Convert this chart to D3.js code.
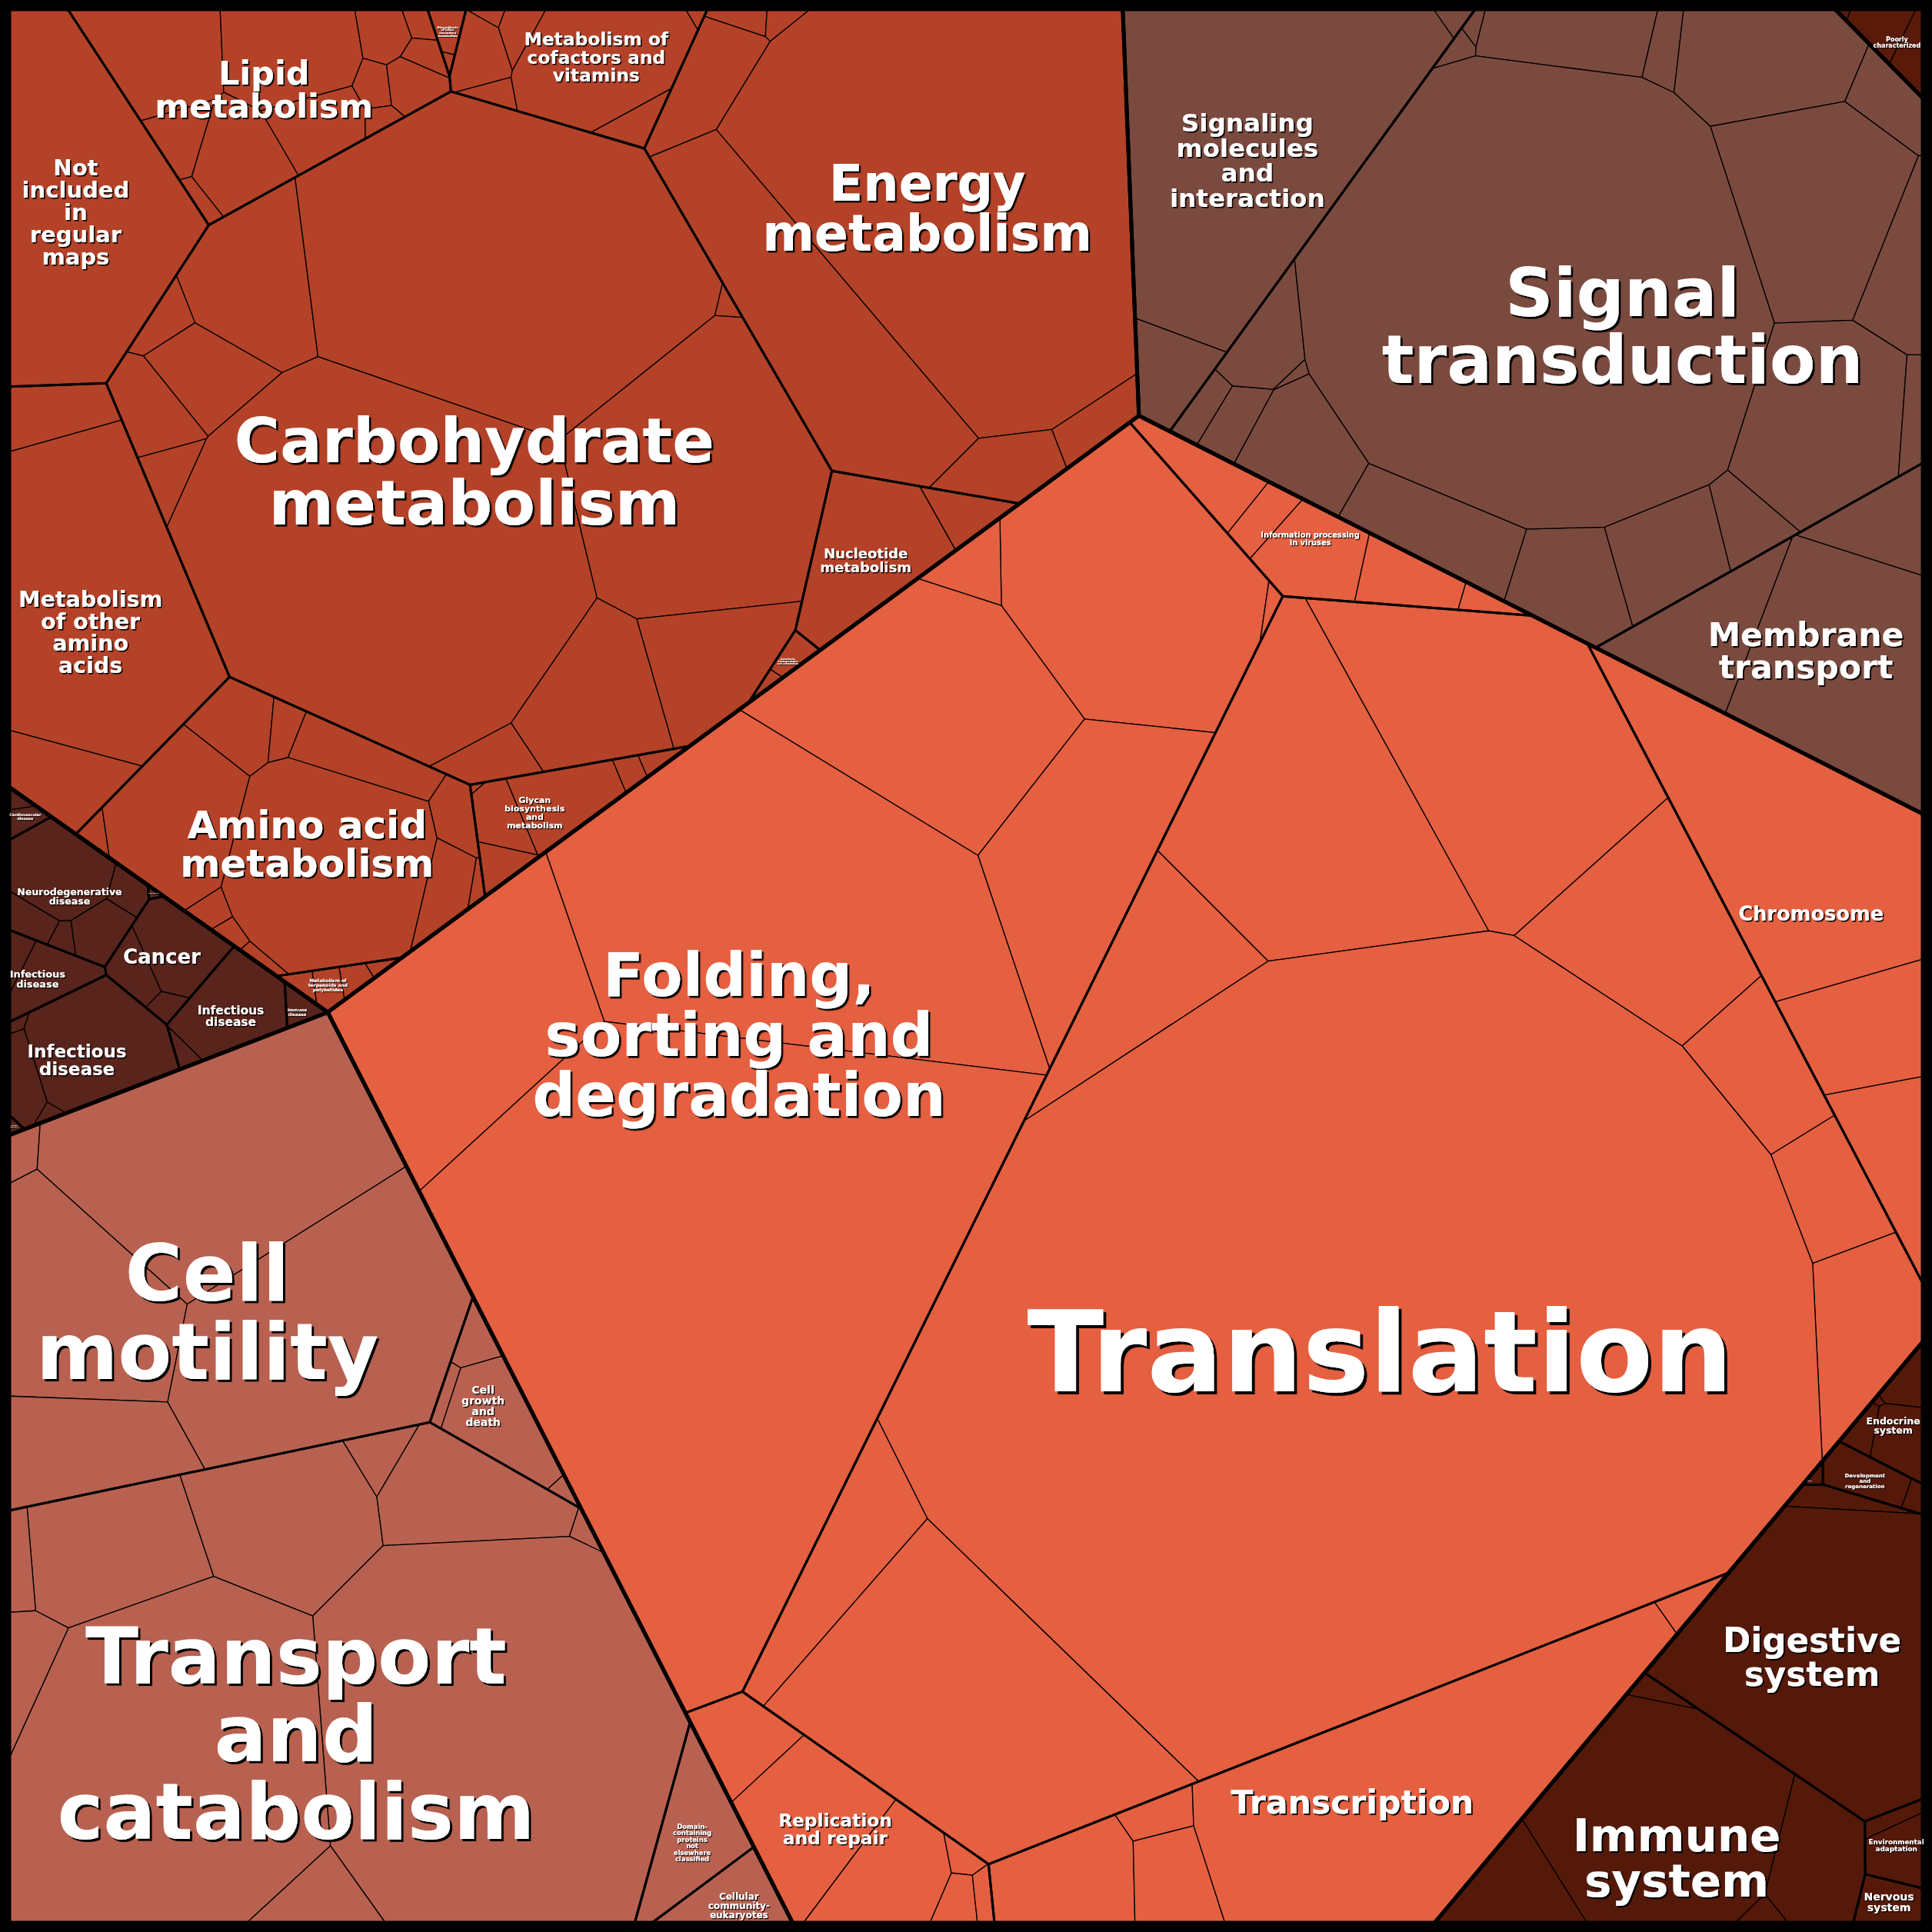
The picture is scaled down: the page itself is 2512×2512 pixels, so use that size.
<!DOCTYPE html>
<html>
<head>
<meta charset="utf-8">
<script src="https://cdn.jsdelivr.net/npm/d3@7"></script>
<style>
  body { margin: 0; background: #000; }
  svg { display: block; }
  .leaf { stroke: #000; stroke-width: 1.3; stroke-linejoin: round; }
  .cat { fill: none; stroke: #000; stroke-width: 3; stroke-linejoin: round; }
  .grp { fill: none; stroke: #000; stroke-width: 5; stroke-linejoin: round; }
  text { font-family: "DejaVu Sans", sans-serif; font-weight: bold; text-anchor: middle; fill: #fff; }
</style>
</head>
<body>
<script>
const SIZE = 2512;

/*** data ***/

// level 1
const groups = ["Metabolism", "Genetic Information Processing", "Environmental Information Processing",
  "Cellular Processes", "Human Diseases", "Organismal Systems", "Poorly characterized"];

// level 2
const categories = [
  "Not included in regular maps", "Lipid metabolism", "Biosynthesis of other secondary metabolites",
  "Metabolism of cofactors and vitamins", "Carbohydrate metabolism", "Energy metabolism",
  "Nucleotide metabolism", "Xenobiotics biodegradation and metabolism", "Glycan biosynthesis and metabolism",
  "Amino acid metabolism", "Metabolism of terpenoids and polyketides", "Metabolism of other amino acids",
  "Folding, sorting and degradation", "Translation", "Chromosome", "Transcription", "Replication and repair",
  "Information processing in viruses",
  "Signaling molecules and interaction", "Signal transduction", "Membrane transport",
  "Cell motility", "Transport and catabolism", "Cell growth and death",
  "Domain-containing proteins not elsewhere classified", "Cellular community - eukaryotes",
  "Cardiovascular disease", "Neurodegenerative disease", "Drug resistance", "Infectious disease", "Cancer",
  "Infectious disease", "Immune disease", "Infectious disease", "Substance dependence",
  "Endocrine system", "Development and regeneration", "Aging", "Digestive system", "Immune system",
  "Environmental adaptation", "Nervous system",
  "Poorly characterized"
];
const categoryGroup = [0,0,0,0,0,0,0,0,0,0,0,0, 1,1,1,1,1,1, 2,2,2, 3,3,3,3,3, 4,4,4,4,4,4,4,4,4, 5,5,5,5,5,5,5, 6];

// how each label is broken into lines
const categoryLines = [
  ["Not","included","in","regular","maps"], ["Lipid","metabolism"], ["Biosynthesis","of other","secondary","metabolites"],
  ["Metabolism of","cofactors and","vitamins"], ["Carbohydrate","metabolism"], ["Energy","metabolism"],
  ["Nucleotide","metabolism"], ["Xenobiotics","biodegradation","and metabolism"], ["Glycan","biosynthesis","and","metabolism"],
  ["Amino acid","metabolism"], ["Metabolism of","terpenoids and","polyketides"], ["Metabolism","of other","amino","acids"],
  ["Folding,","sorting and","degradation"], ["Translation"], ["Chromosome"], ["Transcription"], ["Replication","and repair"],
  ["Information processing","in viruses"],
  ["Signaling","molecules","and","interaction"], ["Signal","transduction"], ["Membrane","transport"],
  ["Cell","motility"], ["Transport","and","catabolism"], ["Cell","growth","and","death"],
  ["Domain-","containing","proteins","not","elsewhere","classified"], ["Cellular","community-","eukaryotes"],
  ["Cardiovascular","disease"], ["Neurodegenerative","disease"], ["Drug resistance"], ["Infectious","disease"], ["Cancer"],
  ["Infectious","disease"], ["Immune","disease"], ["Infectious","disease"], ["Substance","dependence"],
  ["Endocrine","system"], ["Development","and","regeneration"], ["Aging"], ["Digestive","system"], ["Immune","system"],
  ["Environmental","adaptation"], ["Nervous","system"],
  ["Poorly","characterized"]
];

// level 3: sizes of the pathways inside each category (unlabelled cells)
const pathwayValues = [
  [338],
  [80, 80, 20, 5, 51, 37, 16, 9.5, 5, 16, 5, 7],
  [7.5, 1],
  [22, 2.4, 10, 6.6, 112, 12, 1.5],
  [114, 15, 51, 37.5, 17.6, 795, 672, 380, 3, 24, 112, 94],
  [7, 5, 54, 281, 849, 42, 24],
  [19, 108],
  [7, 2],
  [0.5, 42, 20, 11, 5, 4],
  [5, 113, 7, 4, 3.5, 232, 35, 10, 40, 18, 25, 3],
  [4, 7, 5, 2],
  [36, 357, 50],
  [369, 3.3, 24, 336, 259, 755, 312, 1550],
  [439, 424, 147, 200, 87.5, 66.5, 107, 3623, 110, 479],
  [360, 90, 67],
  [80, 17, 45, 502, 10],
  [44, 106, 71, 6, 11, 6],
  [36.5, 17, 53, 34, 7],
  [485, 4, 40],
  [13, 20, 40, 2, 70, 80, 70, 70, 30, 5, 3, 65, 15, 120, 200, 30, 50, 180, 15, 1130],
  [90, 240, 47],
  [9, 395, 195, 108, 382],
  [130, 15, 157, 16, 103, 4, 800, 609, 30, 35],
  [55, 12, 5, 2.7],
  [69],
  [35],
  [2, 5.3],
  [50, 10, 4, 18, 9],
  [0.7],
  [26, 5.7],
  [15, 39, 5],
  [53, 3.7],
  [6.3],
  [1.5, 90, 17, 2],
  [1],
  [10.6, 21, 7, 0.5],
  [22, 3.4],
  [1.6],
  [12, 384],
  [291, 71, 6, 52, 5],
  [6, 21],
  [17.6],
  [14, 11, 0.6]
];

/*** layout seeds: sites of the Voronoi treemap, in the 1568 px frame of the reference ***/
const groupSeeds = [[430,313],[911,967],[1260,280],[247,1306],[64,831],[1431,1404],[1515,28]];
const categorySeeds = [
  [61,172],[214,72],[375,19],[484,46],[385,382],[753,168],[703,455],[633,542],[434,660],[249,685],[266,800],[73,513],
  [600,840],[1121,1097],[1493,902],[1260,1450],[844,1492],[1181,328],
  [978,18],[1318,264],[1467,528],
  [168,1065],[240,1408],[392,1142],[562,1497],[600,1548],
  [20,663],[56,728],[120,722],[30,795],[131,777],[187,825],[241,822],[62,861],[9,919],
  [1538,1158],[1515,1203],[1470,1203],[1472,1346],[1362,1509],[1535,1508],[1525,1549],
  [1541,34]
];
const pathwaySeeds = [
  [[65,173]],
  [[125,45],[240,40],[145,115],[157,160],[195,130],[255,95],[317,27],[306,66],[310,95],[338,62],[348,16],[360,42]],
  [[375,26],[376,56]],
  [[405,35],[418,12],[445,22],[415,72],[505,55],[528,97],[585,13]],
  [[205,225],[139,251],[166,293],[120,330],[134,381],[310,460],[400,200],[560,400],[592,226],[395,620],[470,570],[575,540]],
  [[608,16],[640,18],[590,70],[670,265],[770,180],[795,390],[885,355]],
  [[770,420],[690,465]],
  [[625,545],[600,578]],
  [[394,644],[470,645],[415,668],[407,704],[525,622],[553,610]],
  [[80,678],[135,670],[180,740],[192,760],[208,778],[270,705],[190,600],[245,605],[295,625],[378,680],[355,725],[385,730]],
  [[242,804],[270,800],[300,795],[322,783]],
  [[50,338],[90,480],[50,628]],
  [[900,470],[1030,489],[785,472],[750,580],[878,680],[640,760],[380,850],[600,1090]],
  [[1200,600],[1055,680],[930,805],[1330,745],[1410,835],[1475,940],[1520,1060],[1110,1080],[680,1295],[800,1400]],
  [[1470,690],[1525,880],[1545,985]],
  [[860,1530],[937,1477],[950,1528],[1130,1470],[1368,1303]],
  [[585,1405],[650,1475],[710,1520],[772,1508],[768,1545],[796,1542]],
  [[968,375],[1024,420],[1060,452],[1143,470],[1205,488]],
  [[1020,130],[1184,15],[955,305]],
  [[982,335],[1015,355],[1020,295],[1053,330],[1080,390],[1185,450],[1265,475],[1335,455],[1395,440],[1190,33],
   [1210,18],[1290,38],[1363,55],[1450,65],[1475,200],[1545,105],[1550,230],[1480,340],[1550,345],[1260,270]],
  [[1380,525],[1485,565],[1525,440]],
  [[18,940],[165,950],[75,1050],[70,1185],[250,1085]],
  [[75,1285],[14,1290],[210,1240],[312,1178],[380,1218],[472,1248],[390,1420],[130,1440],[20,1390],[222,1540]],
  [[410,1155],[390,1085],[358,1138],[462,1212]],
  [[556,1500]],
  [[594,1542]],
  [[15,650],[18,670]],
  [[50,710],[25,752],[52,766],[82,762],[105,725]],
  [[119,724]],
  [[45,800],[15,785]],
  [[105,790],[150,770],[138,822]],
  [[192,815],[150,858]],
  [[243,821]],
  [[13,837],[85,860],[28,878],[62,903]],
  [[10,918]],
  [[1552,1118],[1546,1172],[1513,1166],[1529,1137]],
  [[1510,1203],[1553,1218]],
  [[1467,1206]],
  [[1482,1218],[1475,1345]],
  [[1330,1470],[1470,1505],[1348,1364],[1231,1532],[1410,1553]],
  [[1527,1484],[1540,1512]],
  [[1530,1548]],
  [[1515,18],[1550,35],[1493,10]]
];

/*** styles ***/
const groupColor = ["#b44228", "#e55f41", "#7b4a3f", "#b86150", "#58241b", "#55190a", "#5a1a0a"];
const labelSize = [
  29, 43, 3.8, 23.4, 81, 65, 18, 3, 11, 50, 6, 28.6,
  78, 146, 25.7, 42.6, 23.3, 9.8,
  32.6, 87, 42.5,
  102, 101, 14, 8.4, 12,
  4.9, 12.5, 1.5, 12.9, 26, 15.4, 5.6, 23, 1.5,
  12.5, 7, 1.5, 43.7, 59.4, 8.8, 14,
  8
];

/*** power diagram (weighted voronoi) helpers ***/
function dist2(a, b) { const dx = a.x - b.x, dy = a.y - b.y; return dx * dx + dy * dy; }

function clipHalf(poly, a, b, c, tag) {
  const out = [];
  const n = poly.length;
  for (let k = 0; k < n; k++) {
    const P = poly[k], Q = poly[(k + 1) % n];
    const fp = a * P.x + b * P.y - c, fq = a * Q.x + b * Q.y - c;
    const pin = fp <= 0, qin = fq <= 0;
    if (pin) out.push(P);
    if (pin !== qin) {
      const t = fp / (fp - fq);
      out.push({x: P.x + t * (Q.x - P.x), y: P.y + t * (Q.y - P.y), t: pin ? tag : P.t});
    }
  }
  return out;
}

function powerCell(clip, sites, i) {
  let cell = clip;
  const si = sites[i];
  for (let j = 0; j < sites.length; j++) {
    if (j === i) continue;
    const sj = sites[j];
    const a = 2 * (sj.x - si.x), b = 2 * (sj.y - si.y);
    const c = (sj.x * sj.x + sj.y * sj.y - sj.w) - (si.x * si.x + si.y * si.y - si.w);
    cell = clipHalf(cell, a, b, c, j);
    if (cell.length < 3) return [];
  }
  return cell;
}

function area(cell) {
  let s = 0;
  for (let k = 0; k < cell.length; k++) {
    const P = cell[k], Q = cell[(k + 1) % cell.length];
    s += P.x * Q.y - Q.x * P.y;
  }
  return Math.abs(s) / 2;
}

// voronoi map of one level: weights adapt so each cell gets its share of the area
function voronoiMap(clipPts, seeds, values, moves, pull) {
  if (values.length === 1) return [clipPts];
  const clip = clipPts.map(p => ({x: p[0], y: p[1], t: -1}));
  const clipArea = Math.abs(d3.polygonArea(clipPts));
  const total = d3.sum(values);
  const c0 = d3.polygonCentroid(clipPts);
  const sites = seeds.map((s, i) => {
    let p = [s[0], s[1]], k = 0;
    while (pull && !d3.polygonContains(clipPts, p) && k < 60) {
      p = [p[0] + (c0[0] - p[0]) * 0.1, p[1] + (c0[1] - p[1]) * 0.1];
      k++;
    }
    return {x: p[0], y: p[1], w: 0, target: values[i] / total * clipArea};
  });
  let cells;
  function solveWeights(steps) {
    for (let s = 0; s < steps; s++) {
      cells = sites.map((_, i) => powerCell(clip, sites, i));
      const upd = sites.map((si, i) => {
        const cell = cells[i];
        if (cell.length < 3) {
          let m = -Infinity;
          sites.forEach((sj, j) => { if (j !== i) m = Math.max(m, sj.w - dist2(si, sj)); });
          return {set: Math.max(si.w, m) + si.target / Math.PI};
        }
        let D = 0;
        for (let k = 0; k < cell.length; k++) {
          const P = cell[k], Q = cell[(k + 1) % cell.length];
          if (P.t >= 0) D += Math.hypot(Q.x - P.x, Q.y - P.y) / (2 * Math.sqrt(dist2(si, sites[P.t])));
        }
        return {add: D > 0 ? 0.6 * (si.target - area(cell)) / D : 0};
      });
      upd.forEach((u, i) => { if (u.set !== undefined) sites[i].w = u.set; else sites[i].w += u.add; });
    }
    cells = sites.map((_, i) => powerCell(clip, sites, i));
  }
  for (let r = 0; r < moves; r++) {
    solveWeights(30);
    cells.forEach((cell, i) => {
      if (cell.length < 3) return;
      const c = d3.polygonCentroid(cell.map(p => [p.x, p.y]));
      sites[i].x += (c[0] - sites[i].x) * 0.5;
      sites[i].y += (c[1] - sites[i].y) * 0.5;
    });
  }
  solveWeights(150);
  return cells.map(c => c.map(p => [p.x, p.y]));
}

/*** layout ***/
let x = d3.scaleLinear().domain([7, 1562]).range([12, 2500]);
let y = d3.scaleLinear().domain([7, 1562]).range([12, 2500]);
const toPx = p => [x(p[0]), y(p[1])];

const frame = [[x(7), y(7)], [x(1562), y(7)], [x(1562), y(1562)], [x(7), y(1562)]];

const categoryValues = pathwayValues.map(v => d3.sum(v));
const groupValues = groups.map((g, gi) => d3.sum(categoryValues.filter((v, ci) => categoryGroup[ci] === gi)));

const groupCells = voronoiMap(frame, groupSeeds.map(toPx), groupValues, 0, false);

const catCells = new Array(categories.length);
groups.forEach((g, gi) => {
  const idx = d3.range(categories.length).filter(ci => categoryGroup[ci] === gi);
  if (groupCells[gi].length < 3) return;
  const cells = voronoiMap(groupCells[gi], idx.map(ci => toPx(categorySeeds[ci])), idx.map(ci => categoryValues[ci]), 0, false);
  idx.forEach((ci, k) => catCells[ci] = cells[k]);
});

const leafCells = categories.map((c, ci) => {
  if (!catCells[ci] || catCells[ci].length < 3) return [];
  return voronoiMap(catCells[ci], pathwaySeeds[ci].map(toPx), pathwayValues[ci], 0, true);
});

/*** draw ***/
let svg = d3.select("body").append("svg")
  .attr("width", SIZE)
  .attr("height", SIZE);

svg.append("rect").attr("width", SIZE).attr("height", SIZE).attr("fill", "#000");

let defs = svg.append("defs");
let closed = d3.line().curve(d3.curveLinearClosed);

// pathway cells
categories.forEach((c, ci) => {
  svg.append("g").selectAll("path")
    .data(leafCells[ci].filter(p => p.length >= 3))
    .enter().append("path")
      .attr("class", "leaf")
      .attr("fill", groupColor[categoryGroup[ci]])
      .attr("d", closed);
});

// category borders
svg.append("g").selectAll("path")
  .data(catCells.filter(p => p && p.length >= 3))
  .enter().append("path")
    .attr("class", "cat")
    .attr("d", closed);

// group borders
svg.append("g").selectAll("path")
  .data(groupCells.filter(p => p.length >= 3))
  .enter().append("path")
    .attr("class", "grp")
    .attr("d", closed);

// labels: at the cell's site when the text fits there, otherwise at the cell centroid
let labels = svg.append("g");
categories.forEach((c, ci) => {
  const cell = catCells[ci];
  if (!cell || cell.length < 3) return;
  const fs = labelSize[ci], lines = categoryLines[ci];
  const off = 1 + fs * 0.02;
  defs.append("filter")
      .attr("id", "shadow" + ci)
      .attr("x", "-20%").attr("y", "-20%").attr("width", "140%").attr("height", "140%")
    .append("feDropShadow")
      .attr("dx", off).attr("dy", off)
      .attr("stdDeviation", 0)
      .attr("flood-color", "#000")
      .attr("flood-opacity", 1);
  const t = labels.append("text")
    .attr("font-size", fs)
    .attr("filter", "url(#shadow" + ci + ")");
  const place = (px, py) => {
    t.selectAll("tspan").remove();
    lines.forEach((ln, k) => {
      t.append("tspan")
        .attr("x", px)
        .attr("y", py + (k - (lines.length - 1) / 2) * fs + 0.36 * fs)
        .text(ln);
    });
  };
  const [sx, sy] = toPx(categorySeeds[ci]);
  place(sx, sy);
  // text block from the cap line of the first row to the baseline of the last row
  const bb = t.node().getBBox();
  const top = sy - (lines.length - 1) / 2 * fs - 0.37 * fs;
  const bottom = sy + (lines.length - 1) / 2 * fs + 0.36 * fs;
  const corners = [[bb.x, top], [bb.x + bb.width, top], [bb.x, bottom], [bb.x + bb.width, bottom]];
  if (!corners.every(p => d3.polygonContains(cell, p))) {
    const [cx, cy] = d3.polygonCentroid(cell);
    place(cx, cy);
  }
});
</script>
</body>
</html>
